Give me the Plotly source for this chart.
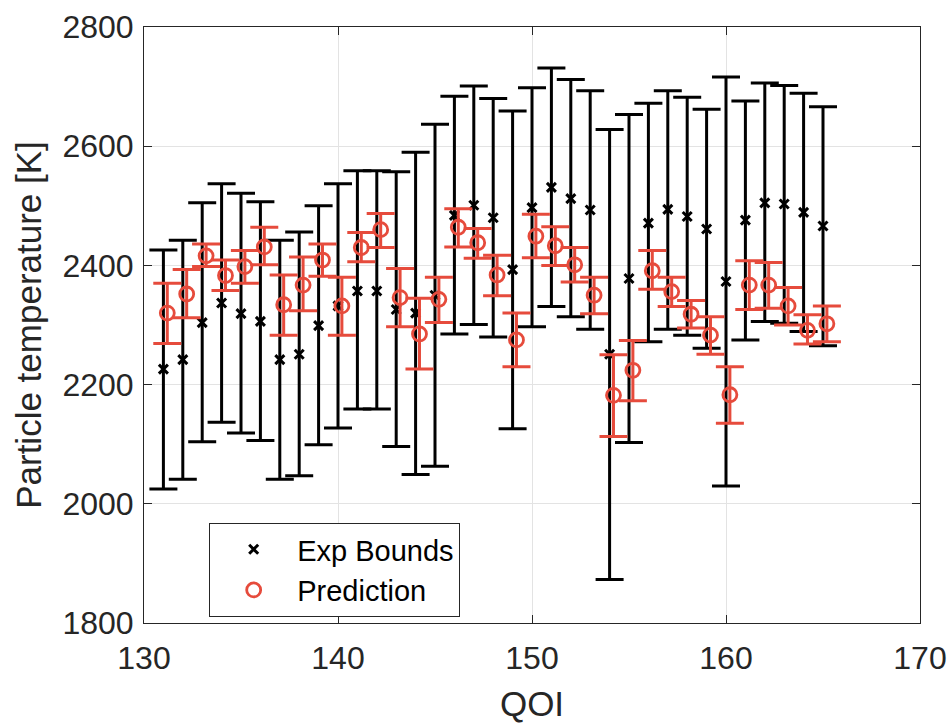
import plotly.graph_objects as go

qoi = list(range(131, 166))

exp_mean = [2226, 2242, 2304, 2337, 2319, 2306, 2242, 2251, 2299, 2332,
            2357, 2357, 2326, 2320, 2350, 2484, 2501, 2480, 2393, 2497,
            2531, 2512, 2493, 2251, 2378, 2471, 2494, 2482, 2461, 2373,
            2476, 2505, 2503, 2489, 2466]
exp_low = [2025, 2041, 2104, 2137, 2119, 2106, 2041, 2047, 2099, 2127,
           2159, 2159, 2096, 2049, 2063, 2285, 2301, 2280, 2126, 2297,
           2331, 2314, 2293, 1873, 2103, 2272, 2293, 2283, 2261, 2030,
           2275, 2306, 2303, 2289, 2265]
exp_high = [2426, 2442, 2505, 2537, 2521, 2507, 2442, 2456, 2500, 2537,
            2559, 2559, 2557, 2590, 2637, 2684, 2701, 2680, 2659, 2698,
            2731, 2712, 2693, 2628, 2653, 2672, 2693, 2682, 2662, 2716,
            2676, 2706, 2702, 2689, 2666]

pred_mean = [2320, 2352, 2416, 2383, 2398, 2431, 2334, 2367, 2409, 2332,
             2430, 2460, 2346, 2285, 2343, 2464, 2438, 2384, 2275, 2449,
             2433, 2401, 2350, 2182, 2224, 2391, 2356, 2318, 2283, 2183,
             2367, 2367, 2332, 2291, 2302]
pred_low = [2269, 2312, 2398, 2358, 2370, 2401, 2283, 2324, 2382, 2283,
            2406, 2430, 2297, 2226, 2304, 2431, 2412, 2349, 2230, 2413,
            2400, 2372, 2319, 2113, 2173, 2360, 2331, 2295, 2251, 2135,
            2326, 2328, 2300, 2268, 2272]
pred_high = [2370, 2393, 2436, 2409, 2425, 2464, 2384, 2414, 2436, 2380,
             2455, 2487, 2395, 2345, 2380, 2495, 2462, 2417, 2320, 2486,
             2465, 2430, 2380, 2250, 2274, 2425, 2380, 2341, 2314, 2230,
             2408, 2405, 2363, 2317, 2332]

x_ticks = [130, 140, 150, 160, 170]
y_ticks = [1800, 2000, 2200, 2400, 2600, 2800]

PRED_OFFSET = 0.2
RED = "#E64B3C"
FONT = "Liberation Sans, Arial, Helvetica, sans-serif"
AX = "#262626"

fig = go.Figure()

fig.add_trace(go.Scatter(
    x=qoi, y=exp_mean, mode="markers", name="Exp Bounds",
    marker=dict(symbol="x-thin", size=9, color="black",
                line=dict(color="black", width=3)),
    error_y=dict(type="data", symmetric=False,
                 array=[h - m for h, m in zip(exp_high, exp_mean)],
                 arrayminus=[m - l for m, l in zip(exp_mean, exp_low)],
                 color="black", thickness=3, width=14),
))

fig.add_trace(go.Scatter(
    x=[q + PRED_OFFSET for q in qoi], y=pred_mean, mode="markers", name="Prediction",
    marker=dict(symbol="circle-open", size=14, color=RED,
                line=dict(color=RED, width=2.8)),
    error_y=dict(type="data", symmetric=False,
                 array=[h - m for h, m in zip(pred_high, pred_mean)],
                 arrayminus=[m - l for m, l in zip(pred_mean, pred_low)],
                 color=RED, thickness=3, width=14),
))

axis_common = dict(
    showline=True, linecolor=AX, linewidth=1, mirror="allticks",
    ticks="inside", ticklen=8, tickwidth=1, tickcolor=AX,
    showgrid=True, gridcolor="#E3E3E3", gridwidth=1,
    zeroline=False, automargin=False,
    tickfont=dict(family=FONT, size=32, color=AX),
)

fig.update_xaxes(range=[130, 170], tickvals=x_ticks, ticklabelstandoff=7,
                 title=dict(text="QOI", font=dict(family=FONT, size=35, color=AX), standoff=23),
                 **axis_common)
fig.update_yaxes(range=[1800, 2800], tickvals=y_ticks, ticklabelstandoff=3,
                 title=dict(text="Particle temperature [K]", font=dict(family=FONT, size=35, color=AX),
                            standoff=10),
                 **axis_common)

fig.update_layout(
    width=950, height=723,
    margin=dict(l=144, r=30, t=27, b=100),
    paper_bgcolor="white", plot_bgcolor="white",
    showlegend=True,
    legend=dict(
        x=0.084, y=0.168, xanchor="left", yanchor="top",
        bgcolor="white", bordercolor=AX, borderwidth=1,
        font=dict(family=FONT, size=29, color="black"),
        itemwidth=77, tracegroupgap=0,
    ),
)

fig.write_html("out.html")
